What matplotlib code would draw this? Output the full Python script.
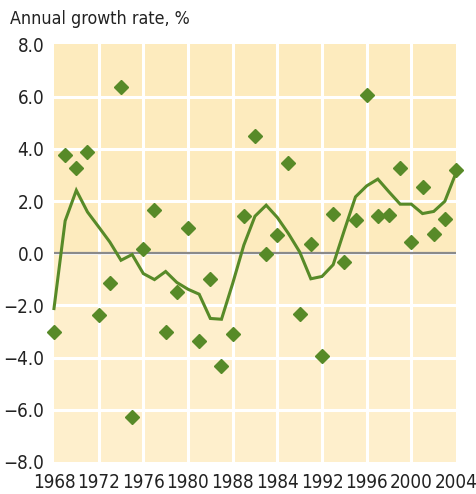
import matplotlib
matplotlib.use("Agg")
import matplotlib.pyplot as plt

years = list(range(1968, 2005))

# annual growth rate, % (diamonds)
annual = [-3.0, 3.75, 3.28, 3.87, -2.38, -1.16, 6.37, -6.28, 0.18, 1.65,
          -3.0, -1.5, 0.97, -3.36, -1.0, -4.33, -3.08, 1.43, 4.48, -0.04,
          0.69, 3.46, -2.31, 0.34, -3.95, 1.49, -0.33, 1.26, 6.08, 1.43,
          1.47, 3.27, 0.43, 2.54, 0.75, 1.33, 3.2]

# smoothed trend (line)
trend = [-2.12, 1.24, 2.41, 1.58, 1.01, 0.43, -0.27, -0.05, -0.78, -1.01,
         -0.70, -1.12, -1.38, -1.57, -2.5, -2.53, -1.16, 0.31, 1.42, 1.84,
         1.37, 0.75, 0.05, -0.98, -0.89, -0.44, 0.88, 2.16, 2.58, 2.84,
         2.35, 1.88, 1.88, 1.52, 1.6, 1.99, 3.08]

xticks = [1968, 1972, 1976, 1980, 1984, 1988, 1992, 1996, 2000, 2004]
xlabels = ["1968", "1972", "1976", "1980", "1988", "1984", "1992", "1996", "2000", "2004"]
yticks = [-8, -6, -4, -2, 0, 2, 4, 6, 8]

green = "#578a28"
tick_font = dict(family="DejaVu Sans", stretch="condensed", size=13.5)

fig = plt.figure(figsize=(4.76, 4.94), dpi=100)
ax = fig.add_axes([0.1134, 0.0648, 0.8446, 0.8452])

ax.set_xlim(1968, 2004)
ax.set_ylim(-8, 8)
ax.axhspan(0, 8, color="#fdebbe", zorder=0, lw=0)
ax.axhspan(-8, 0, color="#feefcc", zorder=0, lw=0)

for x in xticks[1:-1]:
    ax.axvline(x, color="white", lw=2.2, zorder=1)
for y in yticks[1:-1]:
    ax.axhline(y, color="white", lw=2.2, zorder=1)
ax.axhline(0, color="#8a8a8a", lw=1.6, zorder=2)

ax.plot(years, trend, color=green, lw=2.2, zorder=3, clip_on=False,
        solid_joinstyle="miter")
ax.plot(years, annual, "D", color=green, ms=7, zorder=4, clip_on=False)

ax.set_xticks(xticks)
ax.set_xticklabels(xlabels, fontdict=tick_font, color="#222222")
ax.set_yticks(yticks)
ax.set_yticklabels(["%.1f" % v if v >= 0 else "\u2212%.1f" % -v for v in yticks],
                   fontdict=tick_font, color="#222222")
ax.tick_params(axis="y", length=0, pad=7)
ax.tick_params(axis="x", length=0, pad=8)
for s in ax.spines.values():
    s.set_visible(False)

fig.text(0.021, 0.962, "Annual growth rate, %", fontsize=12.8, color="#222222",
         family="DejaVu Sans", stretch="condensed", va="center", ha="left")

fig.savefig("out.png", dpi=100)
